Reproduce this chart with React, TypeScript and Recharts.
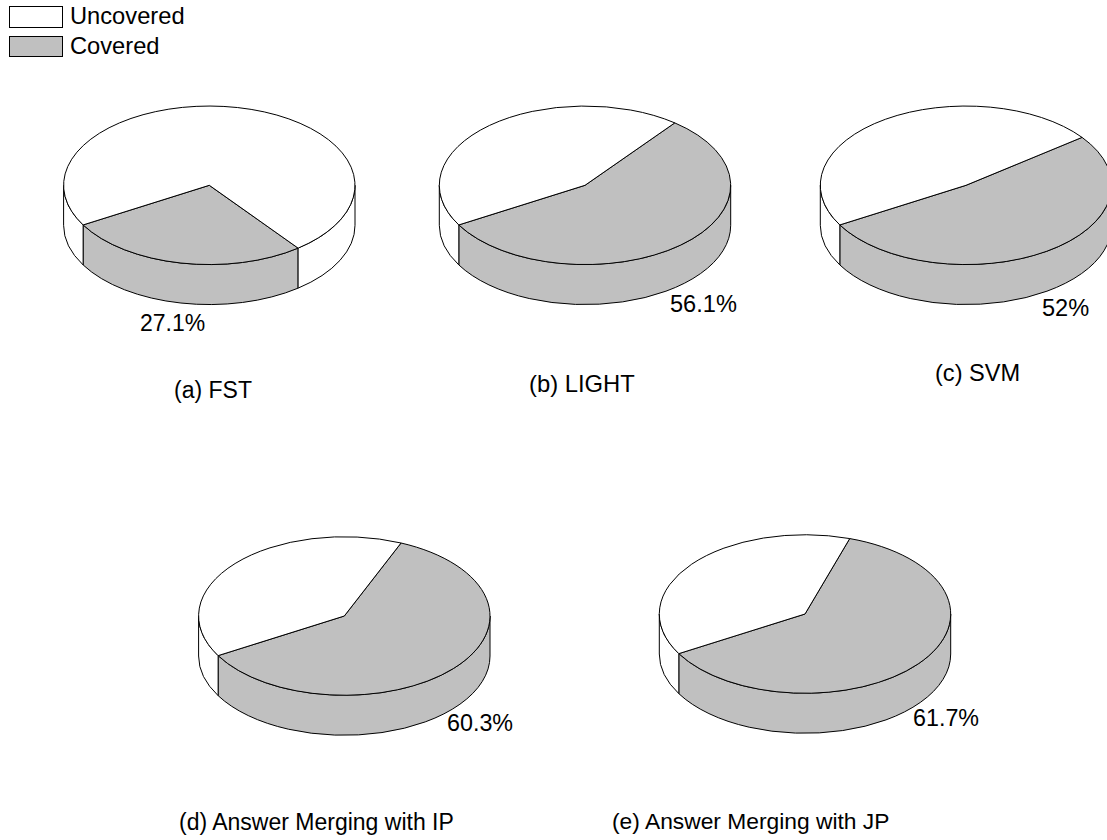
import { Pie, PieChart } from 'recharts'

const slices = ['Covered', 'Uncovered']
const covered = [27.1, 56.1, 52, 60.3, 61.7]
const uncovered = [72.9, 43.9, 48, 39.7, 38.3]
const valueLabels = ['27.1%', '56.1%', '52%', '60.3%', '61.7%']
const captions = [
  '(a) FST',
  '(b) LIGHT',
  '(c) SVM',
  '(d) Answer Merging with IP',
  '(e) Answer Merging with JP',
]

const FONT = '"Liberation Sans", Arial, sans-serif'
const LEGEND_SIZE = 23.7
const COLORS: Record<string, string> = { Covered: '#c0c0c0', Uncovered: '#ffffff' }

// pie centres plus where each pie's labels sit
const layout = [
  { cx: 209.3, cy: 185.3, value: [140, 331], valueSize: 23, caption: [174, 398], captionSize: 23 },
  { cx: 585, cy: 185.3, value: [670, 311.5], valueSize: 23.6, caption: [529, 392], captionSize: 23.8 },
  { cx: 966, cy: 185.3, value: [1042, 316], valueSize: 23.6, caption: [935, 381], captionSize: 23.6 },
  { cx: 344.3, cy: 616, value: [447, 731], valueSize: 23.3, caption: [179, 830], captionSize: 23 },
  { cx: 805, cy: 614, value: [913, 725.5], valueSize: 23.3, caption: [612, 829], captionSize: 22.8 },
]

const RADIUS = 145.7
const TILT = 0.544 // vertical squash of the top face
const DEPTH = 40
const RAD = Math.PI / 180

// Covered always ends at the same spot on the lower left
const SEAM_ANGLE = -150

function tiltedPoint(cx: number, cy: number, r: number, angle: number) {
  return {
    x: cx + r * Math.cos(angle * RAD),
    y: cy - r * TILT * Math.sin(angle * RAD),
  }
}

// 3D slice: the side wall for whatever part of the arc faces the viewer, then the top face
function TiltedSlice(props: any) {
  const { cx, cy, outerRadius: r, startAngle, endAngle, fill } = props
  const ry = r * TILT
  const hi = Math.max(startAngle, endAngle)
  const lo = Math.min(startAngle, endAngle)

  const walls: string[] = []
  for (let k = -2; k <= 1; k++) {
    const from = Math.min(hi, 360 * k)
    const to = Math.max(lo, 360 * k - 180)
    if (from <= to) continue
    const a = tiltedPoint(cx, cy, r, from)
    const b = tiltedPoint(cx, cy, r, to)
    walls.push(
      `M${a.x},${a.y} A${r},${ry} 0 0 1 ${b.x},${b.y} L${b.x},${b.y + DEPTH} ` +
        `A${r},${ry} 0 0 0 ${a.x},${a.y + DEPTH} Z`,
    )
  }

  const p0 = tiltedPoint(cx, cy, r, hi)
  const p1 = tiltedPoint(cx, cy, r, lo)
  const large = hi - lo > 180 ? 1 : 0
  const top = `M${cx},${cy} L${p0.x},${p0.y} A${r},${ry} 0 ${large} 1 ${p1.x},${p1.y} Z`

  return (
    <g>
      {walls.map((d) => (
        <path key={d} d={d} fill={fill} stroke="#000" strokeWidth={1} strokeLinejoin="round" />
      ))}
      <path d={top} fill={fill} stroke="#000" strokeWidth={1} strokeLinejoin="round" />
    </g>
  )
}

function pieData(i: number) {
  return [
    { name: slices[0], value: covered[i], fill: COLORS.Covered },
    { name: slices[1], value: uncovered[i], fill: COLORS.Uncovered },
  ]
}

export default function App() {
  return (
    <div style={{ position: 'absolute', left: 0, top: 0, width: 1107, height: 840, overflow: 'hidden', background: '#fff' }}>
      <PieChart width={1107} height={840} margin={{ top: 0, right: 0, bottom: 0, left: 0 }}>
        {layout.map((pos, i) => {
          const start = SEAM_ANGLE + covered[i] * 3.6
          return (
            <Pie
              key={captions[i]}
              data={pieData(i)}
              dataKey="value"
              nameKey="name"
              cx={pos.cx}
              cy={pos.cy}
              innerRadius={0}
              outerRadius={RADIUS}
              startAngle={start}
              endAngle={start - 360}
              shape={TiltedSlice}
              isAnimationActive={false}
              labelLine={false}
              label={false}
            />
          )
        })}

        {['Uncovered', 'Covered'].map((name, i) => (
          <g key={name}>
            <rect x={9.5} y={6.5 + i * 30} width={53} height={i ? 20 : 21} fill={COLORS[name]} stroke="#000" strokeWidth={1} />
            <text x={70} y={24 + i * 30} fontFamily={FONT} fontSize={LEGEND_SIZE} fill="#000">
              {name}
            </text>
          </g>
        ))}

        {layout.map((pos, i) => (
          <g key={valueLabels[i]} fontFamily={FONT} fill="#000">
            <text x={pos.value[0]} y={pos.value[1]} fontSize={pos.valueSize}>{valueLabels[i]}</text>
            <text x={pos.caption[0]} y={pos.caption[1]} fontSize={pos.captionSize}>{captions[i]}</text>
          </g>
        ))}
      </PieChart>
    </div>
  )
}
